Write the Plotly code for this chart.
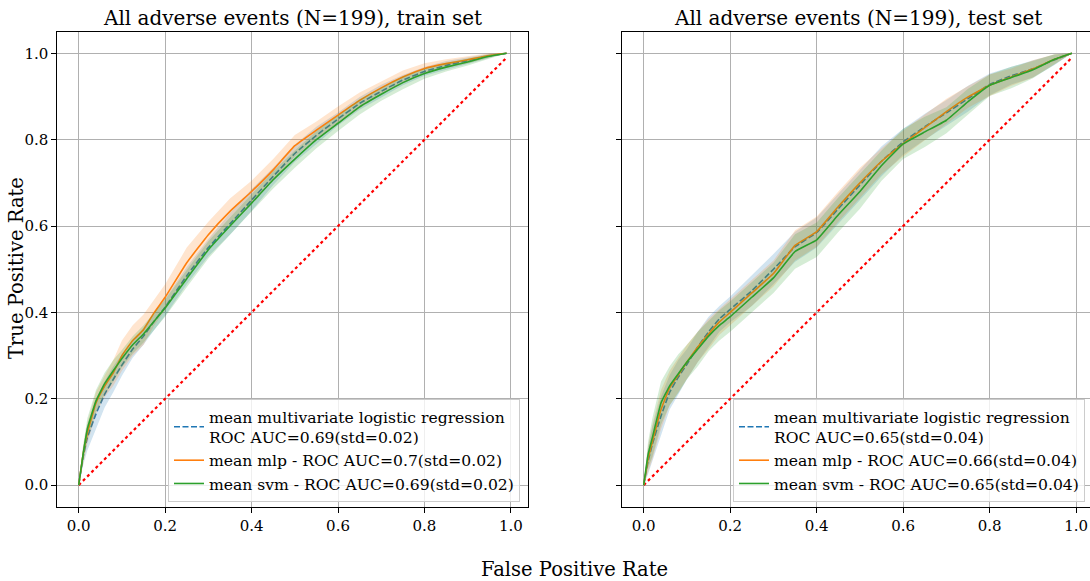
import plotly.graph_objects as go
import numpy as np

# ---------------- data ----------------
fpr = [0, 0.01, 0.02, 0.04, 0.06, 0.08, 0.10, 0.125, 0.15, 0.175, 0.2, 0.25, 0.3,
       0.35, 0.4, 0.45, 0.5, 0.55, 0.6, 0.65, 0.7, 0.75, 0.8, 0.85, 0.9, 0.95, 0.99]

# train set mean TPR
train_lr = [0, 0.065, 0.11, 0.165, 0.21, 0.245, 0.278, 0.315, 0.345, 0.38, 0.412, 0.485, 0.55,
            0.605, 0.66, 0.715, 0.768, 0.81, 0.848, 0.884, 0.912, 0.938, 0.958, 0.972, 0.983, 0.994, 1.0]
train_mlp = [0, 0.07, 0.12, 0.19, 0.229, 0.26, 0.30, 0.335, 0.36, 0.40, 0.435, 0.515, 0.58,
             0.634, 0.68, 0.73, 0.786, 0.822, 0.857, 0.891, 0.92, 0.945, 0.965, 0.976, 0.985, 0.995, 1.0]
train_svm = [0, 0.07, 0.13, 0.195, 0.235, 0.265, 0.293, 0.325, 0.35, 0.38, 0.41, 0.478, 0.545,
             0.60, 0.653, 0.707, 0.755, 0.80, 0.838, 0.876, 0.905, 0.932, 0.953, 0.968, 0.98, 0.993, 1.0]
train_lr_std = [0, 0.02, 0.03, 0.035, 0.03, 0.03, 0.025, 0.02, 0.02, 0.02, 0.02, 0.02, 0.02,
                0.025, 0.025, 0.02, 0.02, 0.02, 0.015, 0.015, 0.015, 0.012, 0.01, 0.01, 0.008, 0.005, 0]
train_mlp_std = [0, 0.02, 0.025, 0.025, 0.025, 0.03, 0.035, 0.035, 0.035, 0.03, 0.03, 0.035, 0.03,
                 0.03, 0.025, 0.025, 0.025, 0.02, 0.02, 0.018, 0.015, 0.015, 0.012, 0.01, 0.008, 0.005, 0]
train_svm_std = [0, 0.02, 0.025, 0.025, 0.025, 0.025, 0.02, 0.02, 0.02, 0.02, 0.02, 0.02, 0.02,
                 0.02, 0.02, 0.02, 0.02, 0.02, 0.018, 0.018, 0.015, 0.015, 0.012, 0.01, 0.008, 0.005, 0]

# test set mean TPR
test_lr = [0, 0.055, 0.095, 0.16, 0.215, 0.25, 0.28, 0.32, 0.355, 0.385, 0.407, 0.45, 0.50,
           0.552, 0.585, 0.64, 0.695, 0.75, 0.795, 0.83, 0.862, 0.895, 0.928, 0.948, 0.964, 0.985, 1.0]
test_mlp = [0, 0.06, 0.10, 0.175, 0.225, 0.255, 0.285, 0.32, 0.35, 0.378, 0.40, 0.445, 0.49,
            0.555, 0.587, 0.645, 0.70, 0.75, 0.791, 0.828, 0.865, 0.899, 0.926, 0.945, 0.964, 0.986, 1.0]
test_svm = [0, 0.07, 0.11, 0.19, 0.23, 0.258, 0.285, 0.315, 0.345, 0.37, 0.39, 0.435, 0.48,
            0.541, 0.568, 0.626, 0.68, 0.74, 0.79, 0.818, 0.845, 0.888, 0.926, 0.944, 0.962, 0.986, 1.0]
test_lr_std = [0, 0.03, 0.04, 0.045, 0.04, 0.04, 0.035, 0.035, 0.035, 0.03, 0.03, 0.035, 0.035,
               0.035, 0.035, 0.035, 0.035, 0.035, 0.03, 0.03, 0.03, 0.03, 0.025, 0.02, 0.02, 0.012, 0]
test_mlp_std = [0, 0.03, 0.04, 0.045, 0.04, 0.04, 0.04, 0.035, 0.035, 0.03, 0.03, 0.03, 0.03,
                0.035, 0.035, 0.035, 0.035, 0.03, 0.03, 0.03, 0.03, 0.025, 0.025, 0.02, 0.02, 0.012, 0]
test_svm_std = [0, 0.03, 0.045, 0.05, 0.045, 0.045, 0.04, 0.04, 0.035, 0.035, 0.035, 0.035, 0.035,
                0.04, 0.04, 0.04, 0.04, 0.035, 0.035, 0.035, 0.03, 0.03, 0.025, 0.025, 0.02, 0.012, 0]

diag = [0, 0.99]

titles = ["All adverse events (N=199), train set", "All adverse events (N=199), test set"]
train_labels = ["mean multivariate logistic regression<br>ROC AUC=0.69(std=0.02)",
                "mean mlp - ROC AUC=0.7(std=0.02)",
                "mean svm - ROC AUC=0.69(std=0.02)"]
test_labels = ["mean multivariate logistic regression<br>ROC AUC=0.65(std=0.04)",
               "mean mlp - ROC AUC=0.66(std=0.04)",
               "mean svm - ROC AUC=0.65(std=0.04)"]
tick_vals = [0, 0.2, 0.4, 0.6, 0.8, 1.0]
tick_text = ["0.0", "0.2", "0.4", "0.6", "0.8", "1.0"]

# ---------------- styling ----------------
FONT = "DejaVu Serif"
colors = ["#1f77b4", "#ff7f0e", "#2ca02c"]
fills = ["rgba(31,119,180,0.2)", "rgba(255,127,14,0.2)", "rgba(44,160,44,0.2)"]
dashes = ["6px,2.5px", "solid", "solid"]

fig = go.Figure()

def add_panel(xa, ya, means, stds, labels, legend_name):
    fig.add_trace(go.Scatter(x=diag, y=diag, mode="lines", xaxis=xa, yaxis=ya,
                             line=dict(color="red", width=2.2, dash="dot"),
                             showlegend=False, hoverinfo="skip"))
    for m, s, lab, c, f, d in zip(means, stds, labels, colors, fills, dashes):
        m = np.array(m)
        s = np.array(s)
        lo = np.clip(m - s, 0, 1)
        hi = np.clip(m + s, 0, 1)
        fig.add_trace(go.Scatter(x=fpr, y=lo, mode="lines", xaxis=xa, yaxis=ya,
                                 line=dict(width=0, color=f), showlegend=False,
                                 hoverinfo="skip"))
        fig.add_trace(go.Scatter(x=fpr, y=hi, mode="lines", xaxis=xa, yaxis=ya,
                                 line=dict(width=0, color=f), fill="tonexty",
                                 fillcolor=f, showlegend=False, hoverinfo="skip"))
        fig.add_trace(go.Scatter(x=fpr, y=m, mode="lines", xaxis=xa, yaxis=ya,
                                 name=lab, legend=legend_name,
                                 line=dict(color=c, width=1.6, dash=d, shape="spline",
                                           smoothing=0.3)))

add_panel("x", "y", [train_lr, train_mlp, train_svm],
          [train_lr_std, train_mlp_std, train_svm_std], train_labels, "legend")
add_panel("x2", "y2", [test_lr, test_mlp, test_svm],
          [test_lr_std, test_mlp_std, test_svm_std], test_labels, "legend2")

W, H = 1090, 581
ydom = [(H - 506.7) / H, (H - 31.7) / H]

axis_common = dict(showgrid=True, gridcolor="#b0b0b0", gridwidth=1,
                   showline=True, linecolor="black", linewidth=1,
                   ticks="outside", ticklen=5, tickwidth=1, tickcolor="black",
                   tickvals=tick_vals, ticktext=tick_text, zeroline=False,
                   tickfont=dict(family=FONT, size=15, color="black"))

legend_common = dict(font=dict(family=FONT, size=15.6, color="black"),
                     bgcolor="rgba(255,255,255,0.8)", bordercolor="#cccccc",
                     borderwidth=1, xanchor="right", yanchor="bottom",
                     y=(H - 502) / H, itemwidth=30, tracegroupgap=2,
                     traceorder="normal")

fig.update_layout(
    width=W, height=H,
    margin=dict(l=0, r=0, t=0, b=0),
    paper_bgcolor="white", plot_bgcolor="white",
    font=dict(family=FONT, color="black"),
    xaxis=dict(domain=[57.3 / W, 528 / W], range=[-0.0495, 1.0395], anchor="y",
               mirror=True, **axis_common),
    yaxis=dict(domain=ydom, range=[-0.05, 1.05], anchor="x", mirror=True, **axis_common),
    xaxis2=dict(domain=[622.3 / W, 1.0], range=[-0.0495, 1.0319], anchor="y2",
                mirror=True, **axis_common),
    yaxis2=dict(domain=ydom, range=[-0.05, 1.05], anchor="x2", mirror=False,
                showticklabels=False, **axis_common),
    legend=dict(x=520 / W, **legend_common),
    legend2=dict(x=1085 / W, **legend_common),
    annotations=[
        dict(text=titles[0], x=(57.3 + 528) / 2 / W, y=(H - 18) / H, xref="paper",
             yref="paper", showarrow=False, xanchor="center", yanchor="middle",
             font=dict(family=FONT, size=20, color="black")),
        dict(text=titles[1], x=(622.3 + 1093) / 2 / W, y=(H - 18) / H, xref="paper",
             yref="paper", showarrow=False, xanchor="center", yanchor="middle",
             font=dict(family=FONT, size=20, color="black")),
        dict(text="False Positive Rate", x=575 / W, y=(H - 569) / H, xref="paper",
             yref="paper", showarrow=False, xanchor="center", yanchor="middle",
             font=dict(family=FONT, size=19.5, color="black")),
        dict(text="True Positive Rate", x=16 / W, y=(H - 268) / H, xref="paper",
             yref="paper", showarrow=False, xanchor="center", yanchor="middle",
             textangle=-90, font=dict(family=FONT, size=19.5, color="black")),
    ],
)

fig.write_html("out.html", config={"displayModeBar": False})
